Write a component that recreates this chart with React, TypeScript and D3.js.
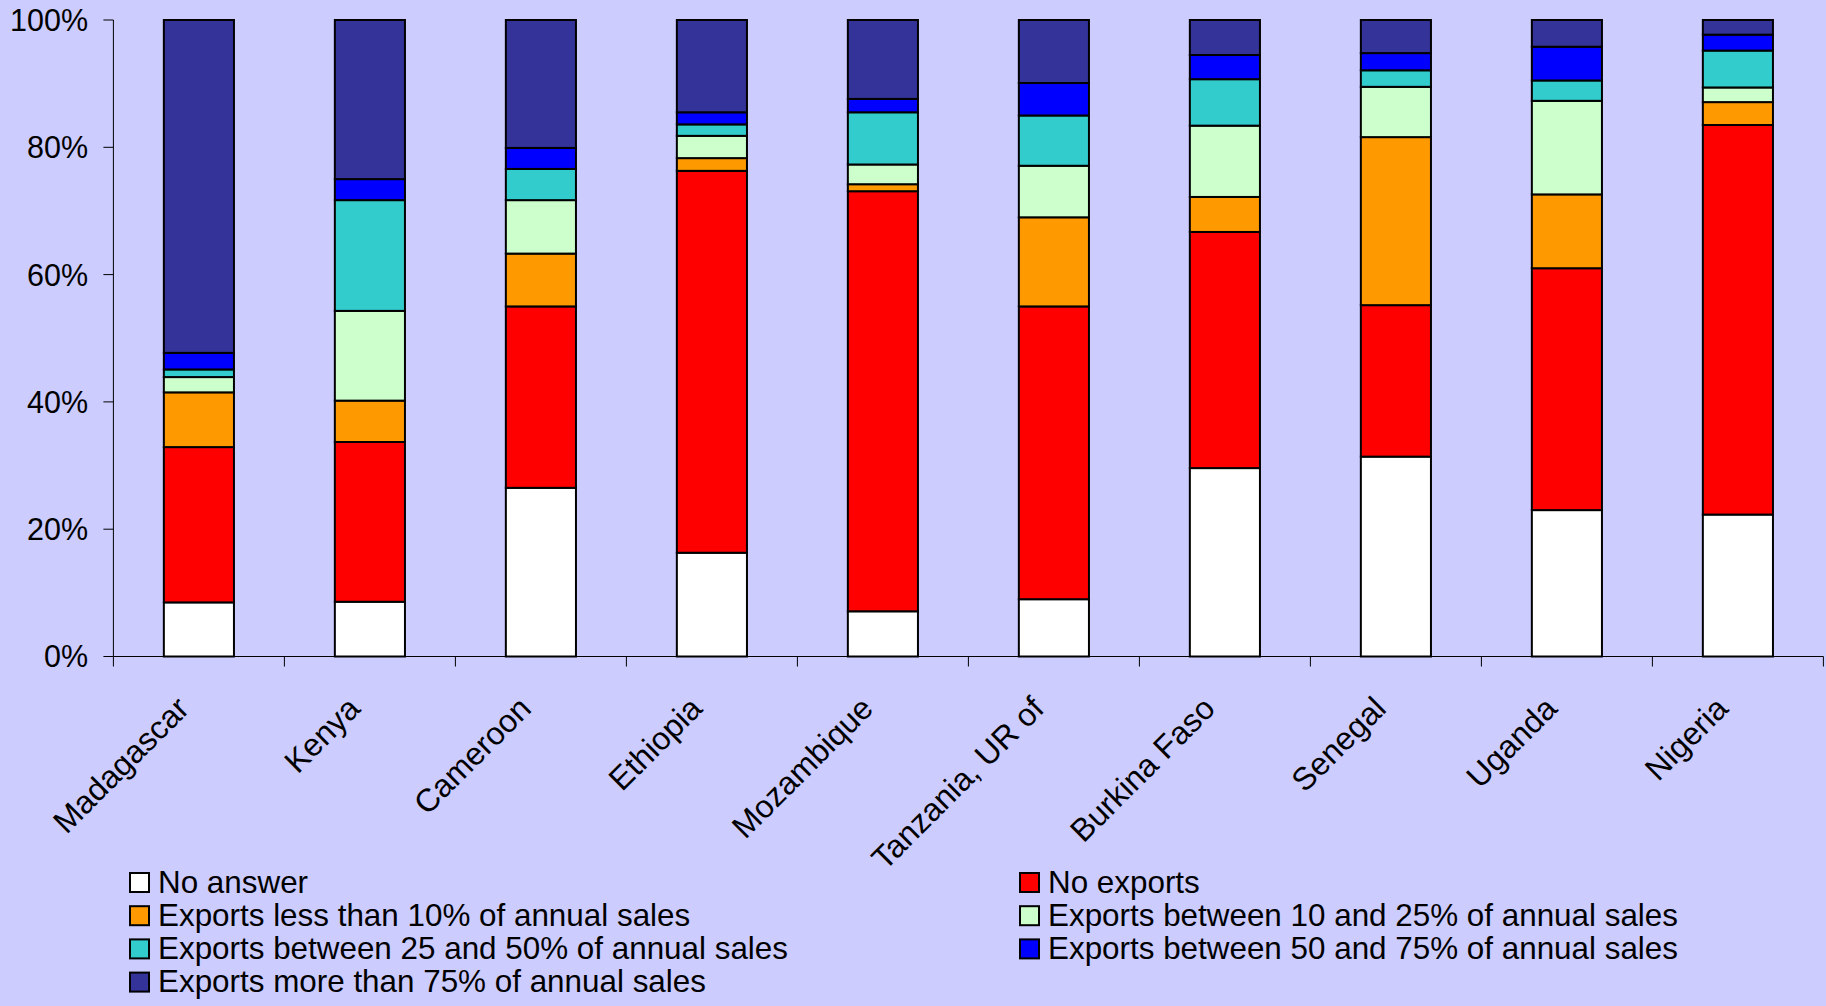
import React from "react";
import * as d3 from "d3";

const categories = ["Madagascar", "Kenya", "Cameroon", "Ethiopia", "Mozambique", "Tanzania, UR of", "Burkina Faso", "Senegal", "Uganda", "Nigeria"];

const seriesNames = [
  "No answer",
  "No exports",
  "Exports less than 10% of annual sales",
  "Exports between 10 and 25% of annual sales",
  "Exports between 25 and 50% of annual sales",
  "Exports between 50 and 75% of annual sales",
  "Exports more than 75% of annual sales",
];

const seriesColors = ["#FFFFFF", "#FF0000", "#FF9900", "#CCFFCC", "#33CCCC", "#0000FF", "#333399"];

const noAnswer = [8.5, 8.6, 26.5, 16.3, 7.1, 9.0, 29.6, 31.4, 23.0, 22.3];
const noExports = [24.4, 25.1, 28.5, 60.0, 66.0, 46.0, 37.1, 23.8, 38.0, 61.2];
const lessThan10 = [8.6, 6.5, 8.3, 2.0, 1.1, 14.0, 5.5, 26.4, 11.6, 3.6];
const between10and25 = [2.4, 14.1, 8.4, 3.5, 3.1, 8.1, 11.2, 7.9, 14.7, 2.3];
const between25and50 = [1.2, 17.4, 4.9, 1.8, 8.2, 7.9, 7.3, 2.6, 3.2, 5.8];
const between50and75 = [2.6, 3.3, 3.3, 1.9, 2.1, 5.1, 3.8, 2.7, 5.3, 2.5];
const moreThan75 = [52.3, 25.0, 20.1, 14.5, 12.4, 9.9, 5.5, 5.2, 4.2, 2.3];

const yTicks = [0, 20, 40, 60, 80, 100];

const W = 1826;
const H = 1006;
const FONT = "'Liberation Sans', Arial, Helvetica, sans-serif";

export default function App() {
  const seriesValues = [noAnswer, noExports, lessThan10, between10and25, between25and50, between50and75, moreThan75];
  const rows = categories.map((c, i) => {
    const r: Record<string, any> = { cat: c };
    seriesNames.forEach((s, k) => (r[s] = seriesValues[k][i]));
    return r;
  });
  const stack = d3.stack<any>().keys(seriesNames)(rows);

  const left = 113.4;
  const right = 1823.4;
  const y0 = 656.5;
  const y1 = 20;
  const pad = 0.59;
  const x = d3.scaleBand<string>().domain(categories).range([left, right]).paddingInner(pad).paddingOuter(pad / 2);
  const y = d3.scaleLinear().domain([0, 100]).range([y0, y1]);
  const bw = x.bandwidth();
  const step = x.step();
  const boundaries = categories.map((c) => (x(c) as number) - (step - bw) / 2).concat([right]);

  const legendCols = [130, 1020];
  const legendBase = 892.5;
  const legendRow = 33.2;

  return (
    <div style={{ position: "absolute", left: 0, top: 0 }}>
      <svg width={W} height={H} style={{ display: "block" }}>
        <rect x={0} y={0} width={W} height={H} fill="#CCCCFF" />
        {/* axes */}
        <line x1={left} x2={left} y1={y1} y2={y0} stroke="#000" strokeWidth={1} />
        <line x1={left} x2={right} y1={y0} y2={y0} stroke="#000" strokeWidth={1} />
        {yTicks.map((t) => (
          <g key={t}>
            <line x1={left - 10} x2={left} y1={y(t)} y2={y(t)} stroke="#000" strokeWidth={1} />
            <text x={88} y={y(t)} dy="0.36em" textAnchor="end" fontFamily={FONT} fontSize={30.5} fill="#000">
              {t}%
            </text>
          </g>
        ))}
        {boundaries.map((b, i) => (
          <line key={i} x1={b} x2={b} y1={y0} y2={y0 + 10} stroke="#000" strokeWidth={1} />
        ))}
        {/* bars */}
        {stack.map((s, k) => (
          <g key={k}>
            {s.map((d, i) => (
              <rect
                key={i}
                x={x(categories[i])}
                y={y(d[1])}
                width={bw}
                height={y(d[0]) - y(d[1])}
                fill={seriesColors[k]}
                stroke="#000"
                strokeWidth={2}
              />
            ))}
          </g>
        ))}
        {/* category labels */}
        {categories.map((c) => {
          const cx = (x(c) as number) + bw / 2 - 8;
          const cy = y0 + 54;
          return (
            <text
              key={c}
              x={cx}
              y={cy}
              textAnchor="end"
              transform={`rotate(-45 ${cx} ${cy})`}
              fontFamily={FONT}
              fontSize={32}
              fill="#000"
            >
              {c}
            </text>
          );
        })}
        {/* legend */}
        {seriesNames.map((s, k) => {
          const col = k % 2;
          const row = Math.floor(k / 2);
          const lx = legendCols[col];
          const ly = legendBase + row * legendRow;
          return (
            <g key={s}>
              <rect x={lx} y={ly - 19.5} width={19} height={19} fill={seriesColors[k]} stroke="#000" strokeWidth={2} />
              <text x={lx + 28} y={ly} fontFamily={FONT} fontSize={31.4} fill="#000">
                {s}
              </text>
            </g>
          );
        })}
      </svg>
    </div>
  );
}
